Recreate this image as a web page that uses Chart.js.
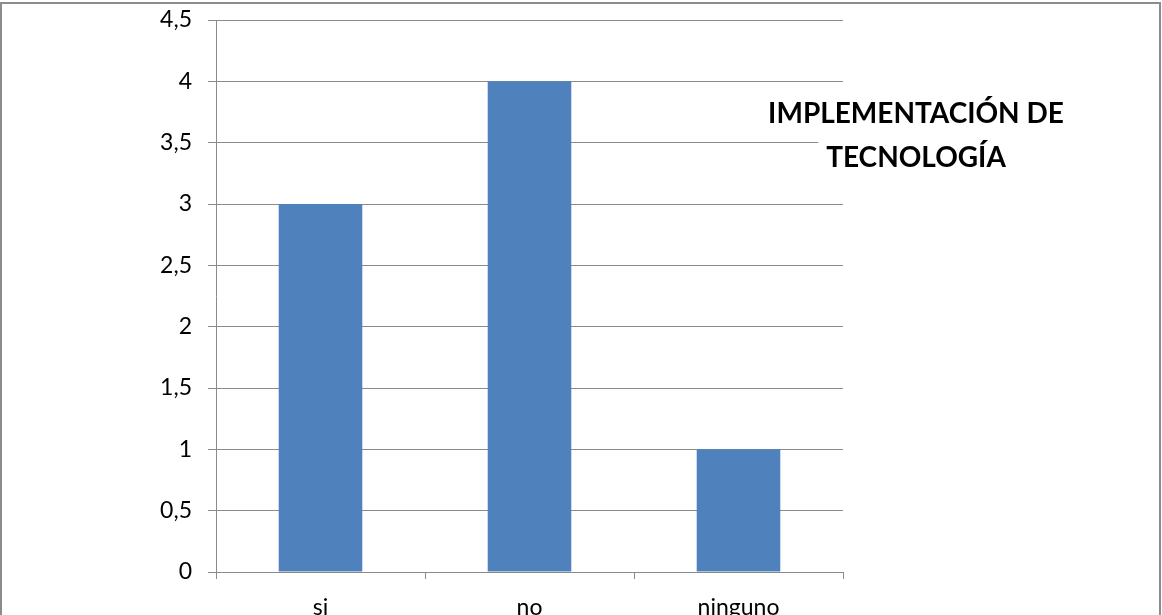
<!DOCTYPE html>
<html>
<head>
<meta charset="utf-8">
<script src="https://cdn.jsdelivr.net/npm/chart.js@4.4.1/dist/chart.umd.min.js"></script>
<style>
  html, body { margin: 0; padding: 0; background: #ffffff; }
  #wrap { width: 1162px; height: 615px; position: relative; }
</style>
</head>
<body>
<div id="wrap"><canvas id="chart" width="1162" height="615"></canvas></div>
<script>
// Survey answers and counts
const categories = ['si', 'no', 'ninguno'];
const counts = [3, 4, 1];
const titleLines = ['IMPLEMENTACIÓN DE', 'TECNOLOGÍA'];
const yMax = 4.5;
const yStep = 0.5;

const FONT = "Lato, 'Liberation Sans', sans-serif";
const GRID = '#8a8a8a';

// Outer frame of the figure (left, top and right edges)
const framePlugin = {
  id: 'frame',
  afterDraw(chart) {
    const c = chart.ctx;
    c.save();
    c.strokeStyle = '#8c8c8c';
    c.lineWidth = 2;
    c.beginPath();
    c.moveTo(1, 615);
    c.lineTo(1, 3);
    c.lineTo(1160, 3);
    c.lineTo(1160, 615);
    c.stroke();
    c.restore();
  }
};

// Title on the right; each line sits on a white box over the gridlines
const titlePlugin = {
  id: 'sideTitle',
  afterDatasetsDraw(chart) {
    const c = chart.ctx;
    c.save();
    c.font = "bold 28px " + FONT;
    c.textAlign = 'center';
    c.textBaseline = 'middle';
    const cx = 916;
    const ys = [114, 158];
    titleLines.forEach((t, i) => {
      const w = c.measureText(t).width;
      c.fillStyle = '#ffffff';
      c.fillRect(cx - w / 2 - 8, ys[i] - 18, w + 16, 36);
      c.fillStyle = '#000000';
      c.fillText(t, cx, ys[i]);
    });
    c.restore();
  }
};

new Chart(document.getElementById('chart'), {
  type: 'bar',
  data: {
    labels: categories,
    datasets: [{
      data: counts,
      backgroundColor: '#4f81bd',
      borderWidth: 0,
      barPercentage: 0.4,
      categoryPercentage: 1.0
    }]
  },
  options: {
    responsive: false,
    animation: false,
    events: [],
    layout: { padding: { left: 0, right: 319, top: 20, bottom: 0 } },
    plugins: {
      legend: { display: false },
      tooltip: { enabled: false },
      title: { display: false }
    },
    scales: {
      x: {
        offset: true,
        grid: {
          offset: true,
          drawOnChartArea: false,
          drawTicks: true,
          tickLength: 7,
          color: GRID,
          lineWidth: 1
        },
        border: { display: true, color: GRID, width: 1 },
        ticks: {
          color: '#000000',
          font: { family: FONT, size: 23 },
          padding: 15,
          maxRotation: 0
        },
        afterFit(scale) {
          scale.height = 43;
          scale.paddingLeft = 0;
          scale.paddingRight = 0;
        }
      },
      y: {
        min: 0,
        max: yMax,
        grid: {
          color: GRID,
          lineWidth: 1,
          drawTicks: true,
          tickLength: 8
        },
        border: { display: true, color: GRID, width: 1 },
        ticks: {
          stepSize: yStep,
          color: '#000000',
          font: { family: FONT, size: 23 },
          padding: 16,
          callback: (v) => String(v).replace('.', ',')
        },
        afterFit(scale) {
          scale.width = 216;
          scale.paddingTop = 0;
          scale.paddingBottom = 0;
        }
      }
    }
  },
  plugins: [titlePlugin, framePlugin]
});
</script>
</body>
</html>
